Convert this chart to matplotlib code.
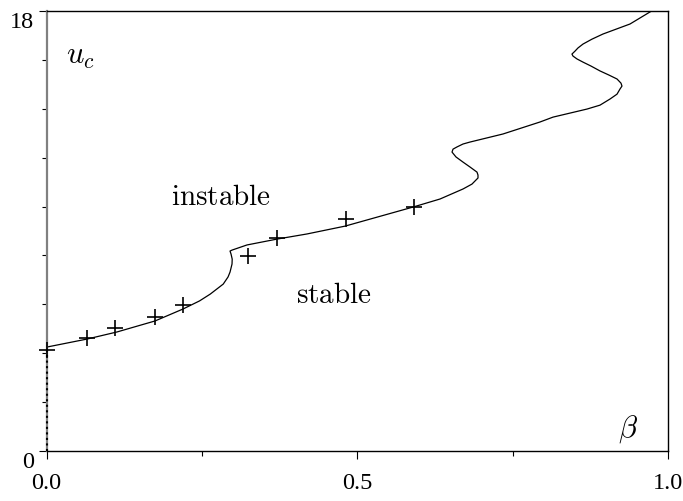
import matplotlib.pyplot as plt

plt.rcParams['mathtext.fontset'] = 'cm'
plt.rcParams['font.family'] = 'Liberation Serif'

# critical value u_c against beta (traced curve)
beta_curve = [0.0, 0.0652, 0.1134, 0.1746, 0.2197, 0.2462, 0.2635, 0.2844, 0.2921,
              0.2953, 0.2985, 0.2988, 0.2969, 0.2953, 0.2985, 0.3226, 0.3709, 0.4192,
              0.4803, 0.5897, 0.6332, 0.6702, 0.6846, 0.6943, 0.6943, 0.6927, 0.6814,
              0.6702, 0.6589, 0.6525, 0.6541, 0.6605, 0.6702, 0.6814, 0.7345, 0.7940,
              0.8150, 0.8697, 0.8906, 0.9067, 0.9180, 0.9228, 0.9260, 0.9244, 0.9180,
              0.9051, 0.8906, 0.8761, 0.8633, 0.8536, 0.8471, 0.8455, 0.8504, 0.8552,
              0.8633, 0.8777, 0.8954, 0.9389, 0.9800]
uc_curve = [4.25, 4.58, 4.87, 5.32, 5.81, 6.14, 6.42, 6.83, 7.12,
            7.32, 7.65, 7.85, 8.06, 8.18, 8.22, 8.43, 8.67, 8.88,
            9.20, 9.98, 10.31, 10.72, 10.92, 11.17, 11.29, 11.41, 11.62,
            11.82, 12.03, 12.23, 12.35, 12.44, 12.56, 12.64, 12.97, 13.46,
            13.66, 13.99, 14.15, 14.40, 14.60, 14.81, 14.93, 15.05, 15.22,
            15.38, 15.55, 15.75, 15.91, 16.04, 16.16, 16.24, 16.36, 16.49,
            16.65, 16.85, 17.06, 17.47, 18.10]

# simulation points
beta_pts = [0.0, 0.065, 0.110, 0.175, 0.220, 0.324, 0.371, 0.482, 0.591]
uc_pts = [4.13, 4.62, 5.03, 5.48, 5.97, 7.98, 8.71, 9.49, 9.98]

fig = plt.figure(figsize=(6.83, 5.02), dpi=100)
ax = fig.add_axes([0.0681, 0.0996, 0.9099, 0.8764])

ax.plot(beta_curve, uc_curve, color='black', linewidth=0.9)
ax.plot([0, 0], [0, uc_curve[0]], color='black', linestyle=':', linewidth=1.5, clip_on=False, zorder=5)
ax.plot(beta_pts, uc_pts, linestyle='none', marker='+', markersize=11,
        markeredgewidth=1.2, color='black', clip_on=False, zorder=6)

ax.set_xlim(0, 1)
ax.set_ylim(0, 18)

ax.set_xticks([0, 0.5, 1.0])
ax.set_xticklabels(['0.0', '0.5', '1.0'])
ax.set_xticks([0.25, 0.75], minor=True)
ax.set_yticks([0, 18])
ax.set_yticklabels(['0', '18'], va='top')
ax.set_yticks(list(range(2, 18, 2)), minor=True)

ax.tick_params(axis='both', which='major', length=6, width=0.8, labelsize=17.5, direction='out')
ax.tick_params(axis='both', which='minor', length=3.5, width=0.8, direction='out')
ax.tick_params(axis='x', which='major', pad=9)
ax.tick_params(axis='y', which='major', pad=3)

for side in ['top', 'right', 'bottom']:
    ax.spines[side].set_linewidth(1.0)
    ax.spines[side].set_color('black')
ax.spines['left'].set_color('#808080')
ax.spines['left'].set_linewidth(1.6)

ax.text(0.054, 16.2, r'$u_c$', fontsize=22, ha='center', va='center')
ax.text(0.281, 10.4, r'$\mathrm{instable}$', fontsize=21, ha='center', va='center')
ax.text(0.463, 6.4, r'$\mathrm{stable}$', fontsize=21, ha='center', va='center')
ax.text(0.935, 0.95, r'$\beta$', fontsize=22, ha='center', va='center')

fig.savefig('out.png', dpi=100)
